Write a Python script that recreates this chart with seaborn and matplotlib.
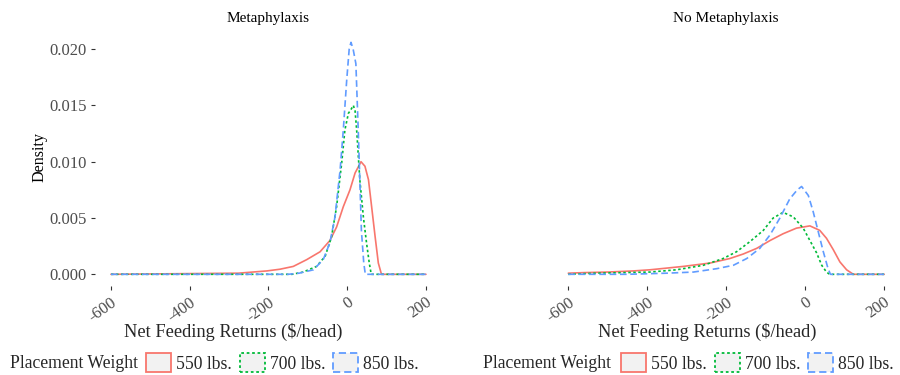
import pandas as pd
import matplotlib
matplotlib.use('Agg')
import matplotlib.pyplot as plt
from matplotlib.patches import Patch
import seaborn as sns

# 面板与分组
panels = ['Metaphylaxis', 'No Metaphylaxis']
weights = ['550 lbs.', '700 lbs.', '850 lbs.']
x_ticks = [-600, -400, -200, 0, 200]
x_tick_labels = ['-600', '-400', '-200', '0', '200']
y_ticks = [0.000, 0.005, 0.010, 0.015, 0.020]
y_tick_labels = ['0.000', '0.005', '0.010', '0.015', '0.020']

# 密度曲线 (Metaphylaxis)
meta_550_x = [-600, -276, -204, -171, -137, -103, -69, -44, -27, -10, 7, 20, 35, 45, 54, 62, 71, 79, 87, 200]
meta_550_y = [0, 0.0001, 0.0003, 0.00045, 0.0007, 0.0013, 0.0020, 0.0030, 0.0042, 0.0060, 0.0075, 0.0090,
              0.0100, 0.0096, 0.0084, 0.0060, 0.0033, 0.0010, 0, 0]
meta_700_x = [-600, -140, -112, -78, -56, -40, -27, -14, -6, 3, 9, 15.5, 20, 24, 32, 41, 49, 56, 61, 200]
meta_700_y = [0, 0, 0.0002, 0.0007, 0.0016, 0.0033, 0.0060, 0.0099, 0.0128, 0.0143, 0.0146, 0.0150,
              0.0145, 0.0128, 0.0084, 0.0051, 0.0028, 0.0010, 0, 0]
meta_850_x = [-600, -150, -122, -86, -61, -44, -31, -18, -10, -1.4, 5, 9.6, 15, 22, 28, 32, 36, 42, 46, 200]
meta_850_y = [0, 0, 0.0001, 0.0004, 0.0013, 0.0028, 0.0051, 0.0093, 0.0128, 0.0172, 0.0200, 0.0206,
              0.0200, 0.0187, 0.0128, 0.0084, 0.0039, 0.0010, 0, 0]

# 密度曲线 (No Metaphylaxis)
nometa_550_x = [-600, -560, -500, -435, -393, -309, -241, -191, -157, -123, -89, -56, -22, 12, 37, 54, 71, 88,
                105, 122, 200]
nometa_550_y = [0.0001, 0.00015, 0.0002, 0.0003, 0.0004, 0.0007, 0.0010, 0.0014, 0.0018, 0.0023, 0.0030, 0.0036,
                0.0041, 0.0043, 0.0039, 0.0032, 0.0022, 0.0011, 0.0004, 0, 0]
nometa_700_x = [-600, -530, -460, -393, -326, -258, -208, -174, -140, -106, -81, -56, -30, -5, 12, 29, 42, 54,
                62, 200]
nometa_700_y = [0, 0.0001, 0.00015, 0.0002, 0.0004, 0.0008, 0.0014, 0.0020, 0.0029, 0.0039, 0.0050, 0.0055,
                0.0051, 0.0041, 0.0030, 0.0019, 0.0008, 0.0002, 0, 0]
nometa_850_x = [-600, -450, -350, -283, -224, -182, -148, -115, -89, -64, -39, -20, -9, 8, 20, 33, 46, 58, 64, 200]
nometa_850_y = [0, 0, 0.0001, 0.0002, 0.0005, 0.0008, 0.0014, 0.0023, 0.0035, 0.0050, 0.0067, 0.0075, 0.0078,
                0.0070, 0.0056, 0.0038, 0.0020, 0.0005, 0, 0]

curves = {
    'Metaphylaxis': [(meta_550_x, meta_550_y), (meta_700_x, meta_700_y), (meta_850_x, meta_850_y)],
    'No Metaphylaxis': [(nometa_550_x, nometa_550_y), (nometa_700_x, nometa_700_y), (nometa_850_x, nometa_850_y)],
}

colors = {'550 lbs.': '#F8766D', '700 lbs.': '#00BA38', '850 lbs.': '#619CFF'}
dashes = {'550 lbs.': '', '700 lbs.': (1.5, 1.5), '850 lbs.': (4, 2.2)}

sns.set_theme(style='white')
plt.rcParams['font.family'] = ['Liberation Serif', 'DejaVu Serif']
plt.rcParams['axes.unicode_minus'] = False

fig = plt.figure(figsize=(9, 3.75), dpi=100)
axes_pos = [[0.1058, 0.2373, 0.385, 0.687], [0.6139, 0.2373, 0.386, 0.687]]
xlab_x = [233 / 900, 707.5 / 900]
leg_title_x = [10 / 900, 483 / 900]
leg_x = [146 / 900, 621 / 900]

for i, panel in enumerate(panels):
    ax = fig.add_axes(axes_pos[i])
    rows = []
    for w, (xs, ys) in zip(weights, curves[panel]):
        rows.append(pd.DataFrame({'x': xs, 'density': ys, 'weight': w}))
    df = pd.concat(rows, ignore_index=True)

    sns.lineplot(data=df, x='x', y='density', hue='weight', style='weight',
                 hue_order=weights, style_order=weights, palette=colors, dashes=dashes,
                 estimator=None, sort=False, linewidth=1.2, legend=False, ax=ax)

    ax.set_xlim(-640, 240)
    ax.set_ylim(-0.00104, 0.02184)
    for s in ax.spines.values():
        s.set_visible(False)
    ax.set_xticks(x_ticks)
    ax.set_xticklabels(x_tick_labels, rotation=35, ha='right', va='top', rotation_mode='anchor')
    ax.tick_params(axis='both', length=3, width=0.8, color='#333333', labelcolor='#4d4d4d',
                   labelsize=12, pad=3, bottom=True, left=True)
    if i == 0:
        ax.set_yticks(y_ticks)
        ax.set_yticklabels(y_tick_labels)
        ax.set_ylabel('Density', fontsize=11.6, color='black')
        ax.yaxis.set_label_coords(-0.139, 0.5)
    else:
        ax.set_yticks([])
        ax.set_ylabel('')
    ax.set_xlabel('')
    ax.set_title(panel, fontsize=11, pad=4.5, color='black')

    # x 轴标题
    fig.text(xlab_x[i], 1 - 331.7 / 375, 'Net Feeding Returns ($/head)', fontsize=13.2,
             ha='center', va='center')

    # 图例
    fig.text(leg_title_x[i], 1 - 363 / 375, 'Placement Weight', fontsize=12.7, ha='left', va='center')
    handles = [Patch(facecolor='#F2F2F2', edgecolor=colors[w],
                     linestyle='-' if dashes[w] == '' else (0, dashes[w]), linewidth=1.3, label=w)
               for w in weights]
    fig.legend(handles=handles, loc='center left', bbox_to_anchor=(leg_x[i], 1 - 363 / 375),
               ncol=3, frameon=False, fontsize=12.7, handlelength=1.42, handleheight=1.25,
               handletextpad=0.28, columnspacing=0.45, borderpad=0, borderaxespad=0)

fig.savefig('out.png', dpi=100)
